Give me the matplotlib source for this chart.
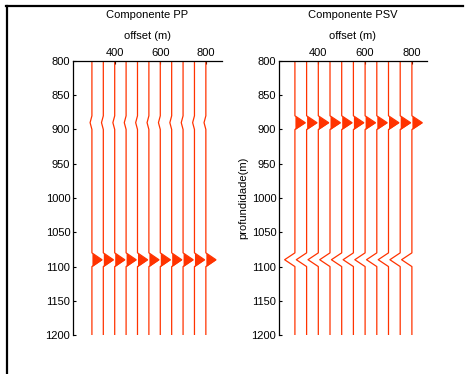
import numpy as np
import matplotlib
matplotlib.use("Agg")
import matplotlib.pyplot as plt
from matplotlib.lines import Line2D

plt.rcParams['font.family'] = ['Liberation Sans', 'DejaVu Sans']
plt.rcParams['font.size'] = 8

# offsets of the traces (m)
offsets = [300, 350, 400, 450, 500, 550, 600, 650, 700, 750, 800]
# depth samples (m)
depth = [800, 810, 820, 830, 840, 850, 860, 870, 880, 890, 900, 910, 920, 930, 940, 950,
         960, 970, 980, 990, 1000, 1010, 1020, 1030, 1040, 1050, 1060, 1070, 1080, 1090,
         1100, 1110, 1120, 1130, 1140, 1150, 1160, 1170, 1180, 1190, 1200]
event_depths = [890, 1090]

# amplitudes of the two events on each trace (offset units)
pp_amp_890 = [-8, -8, -8, -8, -8, -8, -8, -8, -8, -8, -8]
pp_amp_1090 = [44, 44, 44, 44, 44, 44, 44, 44, 44, 44, 44]
psv_amp_890 = [44, 44, 44, 44, 44, 44, 44, 44, 44, 44, 44]
psv_amp_1090 = [-44, -44, -44, -44, -44, -44, -44, -44, -44, -44, -44]

red = '#ff3300'
depth = np.array(depth, dtype=float)


def trace(a1, a2):
    t = np.zeros(len(depth))
    t[np.where(depth == event_depths[0])[0][0]] = a1
    t[np.where(depth == event_depths[1])[0][0]] = a2
    return t


def panel(ax, title, amp1, amp2, xlim):
    for i, off in enumerate(offsets):
        tr = trace(amp1[i], amp2[i])
        ax.plot(off + tr, depth, color=red, lw=0.9)
        ax.fill_betweenx(depth, off, off + np.maximum(tr, 0), color=red, lw=0)
    ax.set_xlim(xlim)
    ax.set_ylim(1200, 800)
    ax.xaxis.tick_top()
    ax.set_xticks([400, 600, 800])
    ax.set_yticks(np.arange(800, 1201, 50))
    ax.tick_params(direction='in', length=2.5, width=0.8, pad=2, labelsize=8)
    ax.spines['right'].set_visible(False)
    ax.spines['bottom'].set_visible(False)
    for s in ['left', 'top']:
        ax.spines[s].set_linewidth(0.9)
    ax.text(0.5, 1.168, title, transform=ax.transAxes, ha='center', va='center', fontsize=8)
    ax.text(0.5, 1.091, 'offset (m)', transform=ax.transAxes, ha='center', va='center', fontsize=8)


fig = plt.figure(figsize=(4.65, 3.74), dpi=100)
ax1 = fig.add_axes([0.157, 0.104, 0.320, 0.733])
ax2 = fig.add_axes([0.600, 0.104, 0.318, 0.733])

panel(ax1, 'Componente PP', pp_amp_890, pp_amp_1090, (217, 870))
panel(ax2, 'Componente PSV', psv_amp_890, psv_amp_1090, (232, 864))
ax2.set_ylabel('profundidade(m)', fontsize=8, labelpad=2)

# frame of the page
fig.add_artist(Line2D([6.5 / 465, 6.5 / 465], [0, 1 - 6 / 374], color='black', lw=1.6,
                      transform=fig.transFigure))
fig.add_artist(Line2D([6 / 465, 463 / 465], [1 - 6 / 374, 1 - 6 / 374], color='black', lw=1.6,
                      transform=fig.transFigure))

fig.savefig('out.png', dpi=100)
